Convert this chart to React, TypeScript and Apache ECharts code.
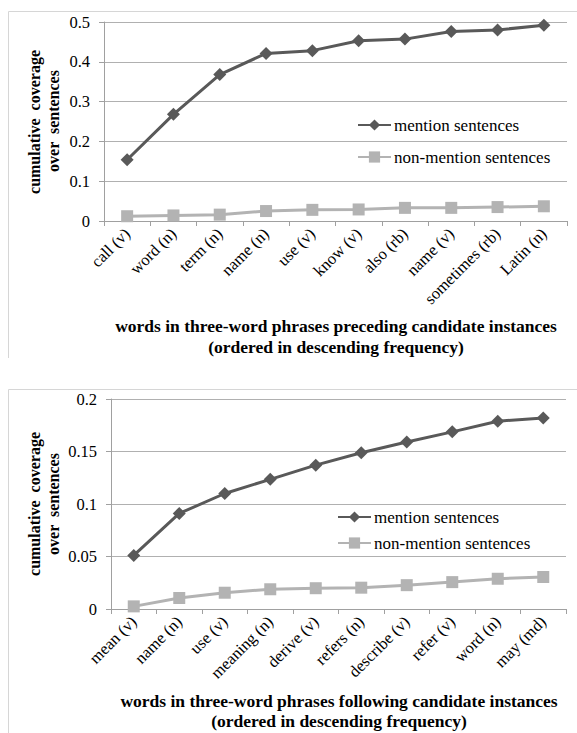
import React, { useEffect, useRef } from "react";
import * as echarts from "echarts";

const topCategories = ["call (v)", "word (n)", "term (n)", "name (n)", "use (v)", "know (v)", "also (rb)", "name (v)", "sometimes (rb)", "Latin (n)"];
const topMention = [0.154, 0.268, 0.368, 0.421, 0.428, 0.453, 0.457, 0.476, 0.48, 0.492];
const topNonMention = [0.012, 0.014, 0.016, 0.025, 0.028, 0.029, 0.033, 0.033, 0.035, 0.037];

const bottomCategories = ["mean (v)", "name (n)", "use (v)", "meaning (n)", "derive (v)", "refers (n)", "describe (v)", "refer (v)", "word (n)", "may (md)"];
const bottomMention = [0.051, 0.091, 0.11, 0.1235, 0.137, 0.1488, 0.159, 0.1687, 0.1788, 0.182];
const bottomNonMention = [0.0025, 0.0105, 0.0155, 0.0188, 0.0198, 0.0203, 0.0227, 0.0256, 0.0288, 0.0305];

const seriesNames = ["mention sentences", "non-mention sentences"];
const topXTitle = ["words in three-word phrases preceding candidate instances", "(ordered in descending frequency)"];
const bottomXTitle = ["words in three-word phrases following candidate instances", "(ordered in descending frequency)"];
const yTitle = ["cumulative  coverage", "over  sentences"];

const SERIF = "Liberation Serif";
const DARK = "#595959";
const LIGHT = "#b3b3b3";
const GRID = "#b0b0b0";

export default function App() {
  const ref = useRef<HTMLDivElement>(null);
  useEffect(() => {
    if (!ref.current) return;
    const chart = echarts.init(ref.current, undefined, { renderer: "svg" });

    const xAxisBase = (cats: string[], gridIndex: number) => ({
      type: "category",
      gridIndex,
      data: cats,
      boundaryGap: true,
      axisLine: { show: true, lineStyle: { color: "#a0a0a0", width: 1 } },
      axisTick: { show: true, length: 5, alignWithLabel: false, lineStyle: { color: "#a0a0a0" } },
      axisLabel: {
        interval: 0,
        rotate: 45,
        margin: 10,
        color: "#000",
        fontFamily: SERIF,
        fontSize: 16.5,
      },
      splitLine: { show: false },
    });

    const yAxisBase = (gridIndex: number, max: number, interval: number) => ({
      type: "value",
      gridIndex,
      min: 0,
      max,
      interval,
      axisLine: { show: true, lineStyle: { color: "#a0a0a0", width: 1 } },
      axisTick: { show: true, length: 5, lineStyle: { color: "#a0a0a0" } },
      axisLabel: { color: "#000", fontFamily: SERIF, fontSize: 16.5, margin: 14 },
      splitLine: { show: true, lineStyle: { color: GRID, width: 1 } },
    });

    const mk = (name: string, data: number[], idx: number, dark: boolean) => ({
      name,
      type: "line",
      xAxisIndex: idx,
      yAxisIndex: idx,
      data,
      symbol: dark ? "diamond" : "rect",
      symbolSize: dark ? 13 : 12,
      showSymbol: true,
      itemStyle: { color: dark ? DARK : LIGHT },
      lineStyle: { color: dark ? DARK : LIGHT, width: 3 },
      z: dark ? 3 : 2,
    });

    const legendBase = (left: number, top: number, gap: number) => ({
      orient: "vertical",
      left,
      top,
      padding: 0,
      itemWidth: 33,
      itemHeight: 14,
      itemGap: gap,
      data: seriesNames,
      selectedMode: false,
      textStyle: { color: "#000", fontFamily: SERIF, fontSize: 17, lineHeight: 17, padding: [0, 0, 0, -2] },
    });

    const vText = (text: string, x: number, y: number) => ({
      type: "text",
      x,
      y,
      rotation: Math.PI / 2,
      style: {
        text,
        fill: "#000",
        fontFamily: SERIF,
        fontSize: 16,
        fontWeight: "bold",
        textAlign: "center",
        textVerticalAlign: "middle",
      },
    });
    const hText = (text: string, x: number, y: number) => ({
      type: "text",
      x,
      y,
      style: {
        text,
        fill: "#000",
        fontFamily: SERIF,
        fontSize: 17.5,
        fontWeight: "bold",
        textAlign: "center",
        textVerticalAlign: "middle",
      },
    });
    const frameLine = (x1: number, y1: number, x2: number, y2: number) => ({
      type: "line",
      shape: { x1, y1, x2, y2 },
      style: { stroke: "#d6d6d6", lineWidth: 1 },
      silent: true,
    });

    chart.setOption({
      animation: false,
      backgroundColor: "#fff",
      textStyle: { fontFamily: SERIF },
      grid: [
        { left: 104, top: 22, width: 463, height: 199 },
        { left: 111, top: 399, width: 455, height: 210 },
      ],
      xAxis: [xAxisBase(topCategories, 0), xAxisBase(bottomCategories, 1)],
      yAxis: [yAxisBase(0, 0.5, 0.1), yAxisBase(1, 0.2, 0.05)],
      legend: [legendBase(357, 116.5, 15), legendBase(337, 508.5, 9)],
      series: [
        mk(seriesNames[0], topMention, 0, true),
        mk(seriesNames[1], topNonMention, 0, false),
        mk(seriesNames[0], bottomMention, 1, true),
        mk(seriesNames[1], bottomNonMention, 1, false),
      ],
      graphic: [
        frameLine(8.5, 11.5, 577, 11.5),
        frameLine(8.5, 11.5, 8.5, 358),
        frameLine(8.5, 389.5, 577, 389.5),
        frameLine(8.5, 389.5, 8.5, 733),
        vText(yTitle[0], 34, 122),
        vText(yTitle[1], 53, 121),
        vText(yTitle[0], 34, 504),
        vText(yTitle[1], 53, 504),
        hText(topXTitle[0], 336, 326),
        hText(topXTitle[1], 336, 347),
        hText(bottomXTitle[0], 339, 701),
        hText(bottomXTitle[1], 339, 721),
      ],
    });
    return () => chart.dispose();
  }, []);
  return (
    <div
      ref={ref}
      style={{ position: "absolute", left: 0, top: 0, width: 577, height: 733 }}
    />
  );
}
